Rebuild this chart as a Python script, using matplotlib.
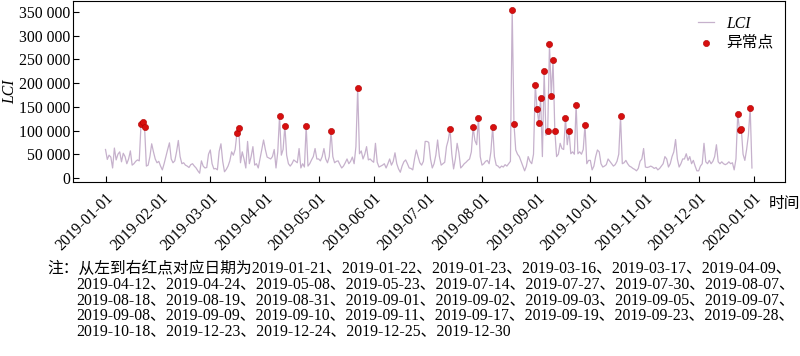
import matplotlib
matplotlib.use("Agg")
import matplotlib.pyplot as plt
import numpy as np
import pandas as pd
from matplotlib.ticker import FuncFormatter

plt.rcParams["font.family"] = ["Liberation Serif", "Noto Sans CJK SC", "DejaVu Sans"]

# 每日 LCI（单位：千），按月读取
jan = [60, 39, 48, 44, 21, 63, 38, 50, 55, 34, 52, 45, 30, 40, 57, 27, 30, 35, 38, 36,
       114, 117, 107, 25, 27, 45, 72, 55, 40, 32, 35]
feb = [25, 17, 30, 45, 60, 74, 40, 32, 36, 55, 79, 45, 30, 32, 27, 25, 22, 28, 30, 25,
       21, 15, 10, 36, 25, 21, 22, 50]
mar = [59, 30, 19, 20, 17, 56, 72, 35, 13, 18, 25, 36, 55, 48, 60, 94, 106, 32, 55, 40,
       21, 77, 30, 45, 66, 27, 30, 21, 40, 60, 80]
apr = [60, 44, 42, 40, 45, 60, 21, 55, 131, 48, 60, 110, 48, 30, 25, 30, 38, 35, 32, 62,
       21, 30, 23, 109, 25, 30, 38, 45, 62, 40]
may = [40, 36, 45, 62, 40, 32, 45, 98, 45, 32, 35, 36, 28, 21, 25, 32, 40, 30, 35, 44,
       30, 66, 189, 51, 57, 40, 50, 66, 38, 40, 36]
jun = [33, 73, 33, 23, 25, 27, 30, 21, 30, 40, 27, 35, 53, 30, 19, 12, 25, 34, 38, 30,
       21, 20, 17, 40, 59, 45, 32, 27, 35, 77]
jul = [77, 75, 40, 21, 30, 48, 80, 45, 27, 30, 33, 66, 80, 103, 50, 19, 40, 73, 53, 21,
       25, 30, 33, 37, 40, 55, 107, 79, 70, 126, 45]
aug = [27, 30, 35, 37, 30, 55, 108, 45, 27, 25, 21, 25, 23, 28, 25, 30, 35, 355, 114, 59,
       50, 45, 35, 25, 15, 25, 45, 35, 30, 50, 197]
sep = [145, 116, 168, 45, 225, 90, 99, 282, 173, 248, 100, 45, 50, 73, 62, 60, 126, 70, 98, 51,
       55, 50, 154, 51, 55, 50, 60, 112, 30, 37]
oct_ = [37, 17, 25, 45, 59, 55, 30, 23, 25, 28, 40, 35, 30, 25, 28, 35, 50, 130, 30, 32,
        37, 30, 25, 23, 20, 18, 15, 20, 35, 40, 62]
nov = [23, 22, 23, 25, 23, 20, 22, 17, 20, 25, 30, 45, 40, 23, 30, 45, 55, 81, 40, 23,
       30, 40, 40, 51, 37, 45, 30, 37, 25, 15]
dec = [15, 25, 30, 73, 34, 30, 37, 30, 35, 45, 70, 34, 30, 34, 30, 28, 30, 34, 30, 32,
       17, 40, 135, 101, 104, 50, 37, 60, 90, 148, 21]

lci = np.array(jan + feb + mar + apr + may + jun + jul + aug + sep + oct_ + nov + dec) * 1000
days = pd.date_range("2019-01-01", periods=len(lci), freq="D")

anomaly_dates = [
    "2019-01-21", "2019-01-22", "2019-01-23", "2019-03-16", "2019-03-17", "2019-04-09",
    "2019-04-12", "2019-04-24", "2019-05-08", "2019-05-23", "2019-07-14", "2019-07-27",
    "2019-07-30", "2019-08-07", "2019-08-18", "2019-08-19", "2019-08-31", "2019-09-01",
    "2019-09-02", "2019-09-03", "2019-09-05", "2019-09-07", "2019-09-08", "2019-09-09",
    "2019-09-10", "2019-09-11", "2019-09-17", "2019-09-19", "2019-09-23", "2019-09-28",
    "2019-10-18", "2019-12-23", "2019-12-24", "2019-12-25", "2019-12-30",
]
series = pd.Series(lci, index=days)
anom_idx = pd.to_datetime(anomaly_dates)
anom_vals = series.loc[anom_idx].values

month_ticks = pd.date_range("2019-01-01", "2020-01-01", freq="MS")

LINE = "#c6b1cc"
RED = "#d70f0f"
FS = 11.3

fig = plt.figure(figsize=(8, 3.56), dpi=100)
ax = fig.add_axes([0.091, 0.489, 0.890, 0.508])

ax.plot(days, lci, color=LINE, lw=0.9, label="LCI")
ax.scatter(anom_idx, anom_vals, s=20, color=RED, edgecolors="#b00000", linewidths=0.4,
           zorder=3, label="异常点")

ax.set_xlim(pd.Timestamp("2018-12-13 14:00"), pd.Timestamp("2020-01-18 12:00"))
ax.set_ylim(-8400, 373000)
ax.set_yticks(np.arange(0, 350001, 50000))
ax.yaxis.set_major_formatter(FuncFormatter(lambda v, p: f"{int(v):,}".replace(",", " ")))
ax.set_xticks(month_ticks)
ax.set_xticklabels([d.strftime("%Y-%m-%d") for d in month_ticks], rotation=45,
                   ha="right", rotation_mode="anchor", fontsize=FS)
ax.tick_params(axis="both", direction="in", length=4, width=0.8, labelsize=FS)
ax.tick_params(axis="x", pad=6)
ax.tick_params(axis="y", pad=2)
for sp in ax.spines.values():
    sp.set_linewidth(0.8)

ax.set_ylabel("LCI", style="italic", fontsize=FS)
ax.yaxis.set_label_coords(-0.077, 0.5)
ax.set_xlabel("时间", fontsize=FS)
ax.xaxis.set_label_coords(0.999, -0.08)

leg = ax.legend(loc="upper right", frameon=False, fontsize=FS, handlelength=1.0,
                scatterpoints=1, borderaxespad=0.3, handletextpad=0.8, labelspacing=0.2,
                bbox_to_anchor=(1.0, 0.98))
leg.get_texts()[0].set_style("italic")

# 注释
lines = [anomaly_dates[:6], anomaly_dates[6:14], anomaly_dates[14:22],
         anomaly_dates[22:30], anomaly_dates[30:]]
ys = [269, 284.5, 300, 315.5, 331]
for i, (grp, yy) in enumerate(zip(lines, ys)):
    txt = "、".join(grp) + ("、" if i < len(lines) - 1 else "")
    if i == 0:
        fig.text(47 / 800, 1 - yy / 356, "注：从左到右红点对应日期为" + txt,
                 va="center", ha="left", fontsize=FS)
    else:
        fig.text(76 / 800, 1 - yy / 356, txt, va="center", ha="left", fontsize=FS)

fig.savefig("out.png", dpi=100)
